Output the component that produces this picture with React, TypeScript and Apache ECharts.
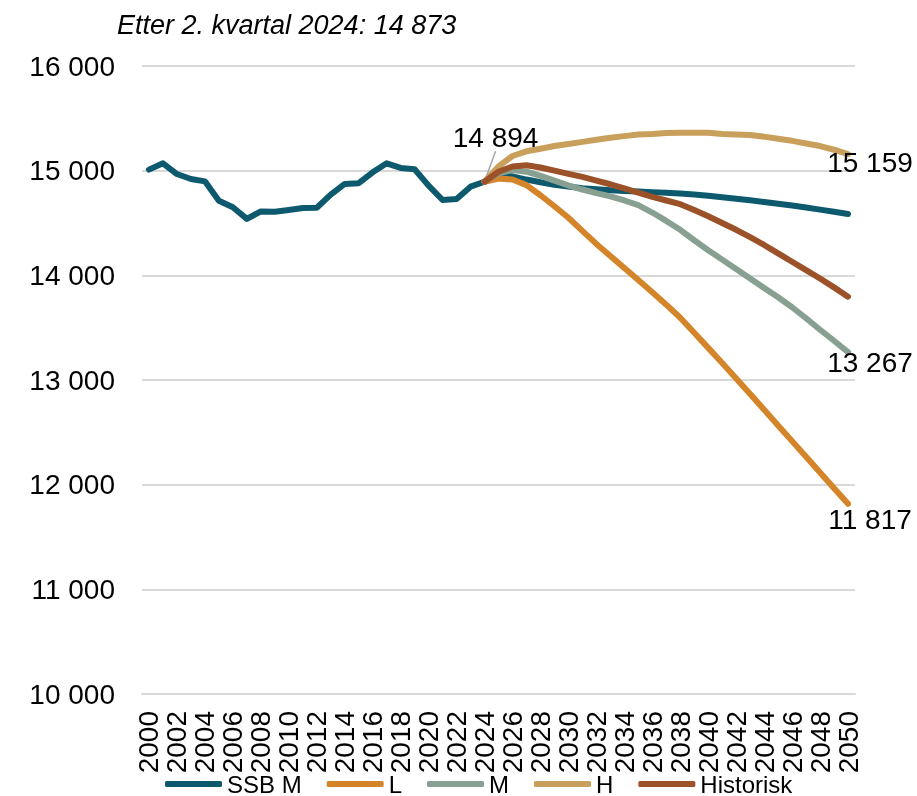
import React, { useEffect, useRef } from "react";
import * as echarts from "echarts";

const years = [
  "2000","2001","2002","2003","2004","2005","2006","2007","2008","2009",
  "2010","2011","2012","2013","2014","2015","2016","2017","2018","2019",
  "2020","2021","2022","2023","2024","2025","2026","2027","2028","2029",
  "2030","2031","2032","2033","2034","2035","2036","2037","2038","2039",
  "2040","2041","2042","2043","2044","2045","2046","2047","2048","2049","2050",
];

// 2000–2024 (historical)
const historic = [
  15010, 15070, 14968, 14920, 14898, 14713, 14650, 14539, 14611, 14608,
  14625, 14644, 14646, 14771, 14873, 14880, 14984, 15070, 15026, 15013,
  14857, 14720, 14730, 14847, 14894,
];

// 2025–2050
const ssbMProj = [
  14970, 14945, 14915, 14890, 14865, 14848, 14833, 14822, 14812, 14805,
  14800, 14795, 14790, 14782, 14772, 14760, 14747, 14732, 14717, 14700,
  14684, 14667, 14648, 14628, 14607, 14586,
];

// 2024–2050
const lVals = [
  14894, 14925, 14915, 14862, 14765, 14660, 14550, 14425, 14300, 14185,
  14070, 13955, 13838, 13720, 13595, 13452, 13307, 13162, 13015, 12866,
  12716, 12566, 12416, 12266, 12116, 11966, 11817,
];
const mVals = [
  14894, 14975, 15005, 14990, 14950, 14905, 14860, 14820, 14785, 14755,
  14715, 14670, 14600, 14520, 14435, 14335, 14240, 14150, 14060, 13970,
  13880, 13790, 13695, 13590, 13480, 13375, 13267,
];
const hVals = [
  14894, 15040, 15140, 15185, 15210, 15235, 15255, 15275, 15295, 15315,
  15330, 15345, 15350, 15360, 15362, 15362, 15362, 15350, 15345, 15340,
  15325, 15305, 15285, 15260, 15235, 15200, 15159,
];
const histVals = [
  14894, 14990, 15040, 15052, 15030, 15000, 14970, 14940, 14905, 14870,
  14830, 14790, 14750, 14715, 14680, 14625, 14565, 14500, 14435, 14365,
  14290, 14210, 14130, 14050, 13970, 13885, 13796,
];

const seriesNames = ["SSB M", "L", "M", "H", "Historisk"];
const colors = ["#0d5a6f", "#d4852a", "#88a091", "#c9a05b", "#9c5229"];
const titleText = "Etter 2. kvartal 2024: 14 873";

const FONT = "'Liberation Sans', Arial, Helvetica, sans-serif";

const fmt = (v: number) =>
  String(Math.round(v)).replace(/\B(?=(\d{3})+(?!\d))/g, " ");

const projStart = years.indexOf("2024");

function padProj(vals: number[]) {
  const out: any[] = [];
  for (let i = 0; i < projStart; i++) out.push(null);
  return out.concat(vals);
}

const labelBase = {
  show: true,
  formatter: (p: any) => fmt(p.value),
  fontSize: 28,
  fontFamily: FONT,
  color: "#000",
};

function withEndLabel(data: any[], offset: number[]) {
  const last = data.length - 1;
  const copy = data.slice();
  copy[last] = {
    value: data[last],
    label: { ...labelBase, position: "bottom", offset },
  };
  return copy;
}

export default function App() {
  const ref = useRef<HTMLDivElement>(null);

  useEffect(() => {
    if (!ref.current) return;
    const chart = echarts.init(ref.current, undefined, { renderer: "svg" });

    const ssbData: any[] = historic.concat(ssbMProj);
    ssbData[projStart] = {
      value: historic[projStart],
      label: { ...labelBase, position: "top" },
      labelLine: {
        show: true,
        lineStyle: { color: "#a6a6a6", width: 1.5 },
      },
    };

    const dataSets = [
      ssbData,
      withEndLabel(padProj(lVals), [22, -4]),
      withEndLabel(padProj(mVals), [22, -9]),
      withEndLabel(padProj(hVals), [22, -11]),
      padProj(histVals),
    ];

    const series = seriesNames.map((name, i) => ({
      name,
      type: "line",
      data: dataSets[i],
      showSymbol: true,
      showAllSymbol: true,
      symbol: "circle",
      symbolSize: 1,
      itemStyle: { color: colors[i] },
      color: colors[i],
      label: { show: false },
      lineStyle: { width: 6, color: colors[i], cap: "round", join: "round" },
      z: 2 + i,
      ...(i === 0
        ? {
            labelLine: { show: true, lineStyle: { color: "#a6a6a6", width: 1.5 } },
            labelLayout: (params: any) =>
              params.dataIndex === projStart ? { dx: 11, dy: -25 } : {},
          }
        : {}),
    }));

    chart.setOption({
      animation: false,
      color: colors,
      title: {
        text: titleText,
        left: 112,
        top: 6,
        textStyle: {
          fontStyle: "italic",
          fontWeight: "normal",
          fontSize: 27,
          color: "#000",
          fontFamily: FONT,
        },
      },
      legend: {
        data: seriesNames,
        left: 165,
        top: 772,
        padding: 0,
        icon: "roundRect",
        itemWidth: 57,
        itemHeight: 6,
        itemGap: 25,
        textStyle: { fontSize: 24, lineHeight: 22, color: "#000", fontFamily: FONT },
      },
      grid: { left: 142, right: 62, top: 66, bottom: 102, containLabel: false },
      xAxis: {
        type: "category",
        data: years,
        boundaryGap: true,
        axisLine: { show: true, lineStyle: { color: "#d9d9d9", width: 2 } },
        axisTick: { show: false },
        axisLabel: {
          interval: 1,
          rotate: 90,
          fontSize: 28,
          margin: 17,
          color: "#000",
          fontFamily: FONT,
        },
      },
      yAxis: {
        type: "value",
        min: 10000,
        max: 16000,
        interval: 1000,
        axisLine: { show: false },
        axisTick: { show: false },
        splitLine: { lineStyle: { color: "#d9d9d9", width: 2 } },
        axisLabel: {
          formatter: (v: number) => fmt(v),
          fontSize: 28,
          margin: 27,
          color: "#000",
          fontFamily: FONT,
        },
      },
      series,
    });

    return () => chart.dispose();
  }, []);

  return (
    <div
      ref={ref}
      style={{ position: "fixed", left: 0, top: 0, width: 917, height: 796 }}
    />
  );
}
